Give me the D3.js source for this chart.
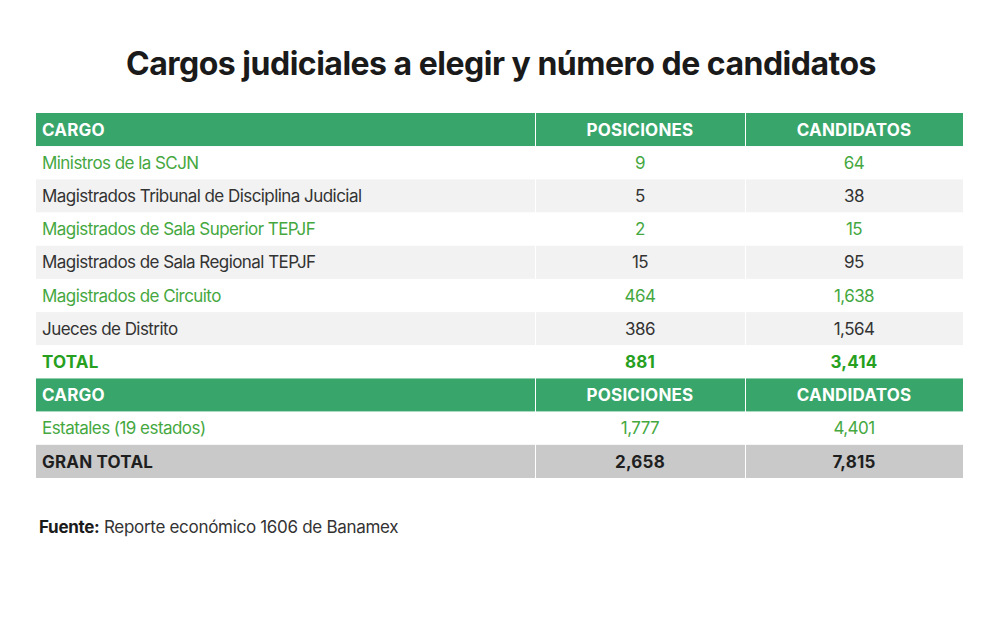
<!DOCTYPE html>
<html>
<head>
<meta charset="utf-8">
<script src="https://cdn.jsdelivr.net/npm/d3@7"></script>
<style>
  body { margin: 0; background: #fff; }
  svg text { font-family: Inter, "Open Sans", sans-serif; }
</style>
</head>
<body>
<svg id="chart" width="1000" height="619"></svg>
<script>
// table contents
var headers = ['CARGO', 'POSICIONES', 'CANDIDATOS'];
var cargos = [
  'Ministros de la SCJN',
  'Magistrados Tribunal de Disciplina Judicial',
  'Magistrados de Sala Superior TEPJF',
  'Magistrados de Sala Regional TEPJF',
  'Magistrados de Circuito',
  'Jueces de Distrito'
];
var posiciones = [9, 5, 2, 15, 464, 386];
var candidatos = [64, 38, 15, 95, 1638, 1564];
var total = ['TOTAL', 881, 3414];
var estatales = ['Estatales (19 estados)', 1777, 4401];
var granTotal = ['GRAN TOTAL', 2658, 7815];

var fmt = d3.format(',');

// build the row list: header, 6 rows, total, header, estatales, gran total
var rows = [{type: 'head', cells: headers}];
cargos.forEach(function(c, i) {
  rows.push({type: i % 2 ? 'gray' : 'green', cells: [c, fmt(posiciones[i]), fmt(candidatos[i])]});
});
rows.push({type: 'total', cells: [total[0], fmt(total[1]), fmt(total[2])]});
rows.push({type: 'head', cells: headers});
rows.push({type: 'green', cells: [estatales[0], fmt(estatales[1]), fmt(estatales[2])]});
rows.push({type: 'grand', cells: [granTotal[0], fmt(granTotal[1]), fmt(granTotal[2])]});

var svg = d3.select('#chart');

svg.append('text')
  .attr('x', 501).attr('y', 75)
  .attr('text-anchor', 'middle')
  .style('font-size', '32px').style('font-weight', 700)
  .style('letter-spacing', '-0.5px')
  .attr('fill', '#1a1a1a')
  .text('Cargos judiciales a elegir y número de candidatos');

var y = d3.scaleBand().domain(d3.range(rows.length)).range([113, 478]);
var colEdges = [36, 535, 745, 963];

var fills = {head: '#38a66b', green: '#ffffff', gray: '#f2f2f2', total: '#ffffff', grand: '#c9c9c9'};
var colors = {head: '#ffffff', green: '#45a83f', gray: '#333333', total: '#26a01e', grand: '#1f1f1f'};
var weights = {head: 700, green: 400, gray: 400, total: 700, grand: 700};

var row = svg.selectAll('g.row').data(rows).join('g')
  .attr('class', 'row')
  .attr('transform', function(d, i) { return 'translate(0,' + y(i) + ')'; });

row.selectAll('rect').data(function(d) { return [0, 1, 2].map(function(j) { return {row: d, j: j}; }); })
  .join('rect')
  .attr('x', function(d) { return colEdges[d.j] + (d.j ? 1 : 0); })
  .attr('width', function(d) { return colEdges[d.j + 1] - colEdges[d.j] - (d.j ? 1 : 0); })
  .attr('y', 0)
  .attr('height', y.bandwidth())
  .attr('fill', function(d) { return fills[d.row.type]; });

row.selectAll('text').data(function(d) { return d.cells.map(function(c, j) { return {row: d, j: j, text: c}; }); })
  .join('text')
  .attr('x', function(d) { return d.j ? (colEdges[d.j] + colEdges[d.j + 1]) / 2 : 42; })
  .attr('y', y.bandwidth() / 2)
  .attr('dy', '0.36em')
  .attr('text-anchor', function(d) { return d.j ? 'middle' : 'start'; })
  .style('font-size', '17px')
  .style('letter-spacing', function(d) { return weights[d.row.type] === 700 ? '0.2px' : '-0.55px'; })
  .style('font-weight', function(d) { return weights[d.row.type]; })
  .attr('fill', function(d) { return colors[d.row.type]; })
  .text(function(d) { return d.text; });

var src = svg.append('text')
  .attr('x', 39).attr('y', 533)
  .style('font-size', '17px').style('letter-spacing', '-0.3px')
  .attr('fill', '#1a1a1a');
src.append('tspan').style('font-weight', 700).text('Fuente:');
src.append('tspan').attr('fill', '#333').text(' Reporte económico 1606 de Banamex');
</script>
</body>
</html>
